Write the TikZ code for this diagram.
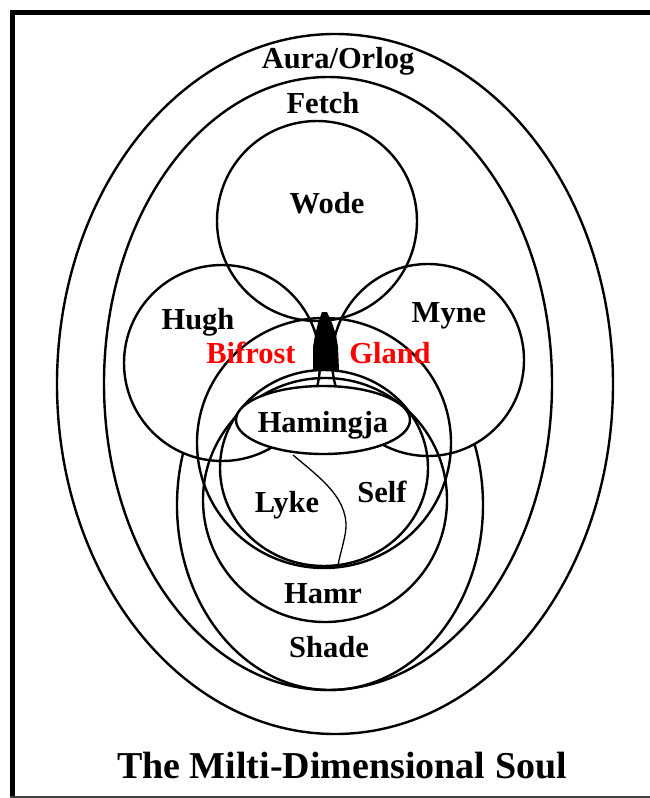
\documentclass[tikz,border=0pt]{standalone}
\usepackage{fontspec}
\setmainfont{Liberation Serif}
\begin{document}
\begin{tikzpicture}[x=1pt,y=-1pt,line width=2.4pt,
  lbl/.style={font=\fontsize{30.5}{30.5}\selectfont\bfseries,anchor=base,inner sep=0pt},
  redlbl/.style={lbl,text=red},
  ttl/.style={font=\fontsize{38}{38}\selectfont\bfseries,anchor=base,inner sep=0pt},
  ring/.style={draw=black,line width=2.4pt},
  thin/.style={draw=black,line width=1.3pt}]
\useasboundingbox (0,0) rectangle (650,798);
% frame
\draw[line width=5pt] (650,12.5) -- (12.5,12.5) -- (12.5,798);
\draw[line width=1.5pt,black!75] (10,797) -- (650,797);
% outer shells
\draw[ring] (335,384) ellipse [x radius=278pt,y radius=350pt];
\draw[ring] (328,383.5) ellipse [x radius=224pt,y radius=306.5pt];
% shade (only the lower part, outside Hugh and Myne)
\begin{scope}
\clip (0,430) rectangle (650,798);
\begin{scope}[even odd rule]
\clip (0,0) rectangle (650,798)
  (222,363) circle [radius=98pt] (428,360) circle [radius=96pt];
\draw[ring] (330,505) ellipse [x radius=153pt,y radius=185pt];
\end{scope}
\end{scope}
% three upper circles
\draw[ring] (317,221) circle [radius=100pt];
\draw[ring] (222,363) circle [radius=98pt];
\draw[ring] (428,360) circle [radius=96pt];
% inner rings
\draw[ring] (324,443) ellipse [x radius=127pt,y radius=125pt];
\draw[ring] (325,500) circle [radius=122pt];
\draw[ring] (324,468) ellipse [x radius=104pt,y radius=98pt];
% hamingja
\draw[ring,fill=white] (323,420) ellipse [x radius=87pt,y radius=34pt];
% gland
\fill[black] (322,312) -- (327,312) -- (332,323) -- (336,335) -- (338,347) -- (339,370)
  -- (313,370) -- (313,347) -- (315,335) -- (318,323) -- cycle;
% divider Lyke / Self
\draw[thin] (293,455) .. controls (320,478) and (352,500) .. (345,535)
  .. controls (342,550) and (339,558) .. (338,566);
% labels
\node[lbl] (aura) at (338,68) {Aura/Orlog};
\node[lbl] (fetch) at (323,113) {Fetch};
\node[lbl] (wode) at (327,213) {Wode};
\node[lbl] (hugh) at (198,329) {Hugh};
\node[lbl] (myne) at (449,322) {Myne};
\node[redlbl] (bifrost) at (251,363) {Bifrost};
\node[redlbl] (gland) at (390,363) {Gland};
\node[lbl] (hamingja) at (323,432) {Hamingja};
\node[lbl] (lyke) at (287,512) {Lyke};
\node[lbl] (self) at (382,502) {Self};
\node[lbl] (hamr) at (323,603) {Hamr};
\node[lbl] (shade) at (329,657) {Shade};
\node[ttl] (title) at (342,778) {The Milti-Dimensional Soul};
\end{tikzpicture}
\end{document}
